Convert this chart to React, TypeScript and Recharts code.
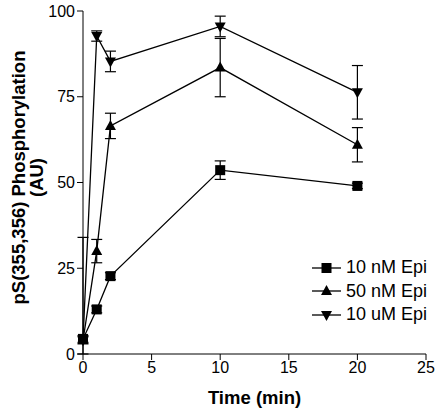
import React from "react";
import {
  ComposedChart,
  Line,
  XAxis,
  YAxis,
  ErrorBar,
  Label,
} from "recharts";

// time points (min)
const times = [0, 1, 2, 10, 20];

// mean responses
const epi10nM = [4.4, 13, 22.7, 53.6, 49];
const epi50nM = [4, 30, 66.5, 83.5, 61];
const epi10uM = [4, 92.7, 85.3, 95.5, 76.3];

// error bars as [below, above]
const epi10nMErr = [[1, 1], [1, 1], [1, 1], [2.7, 2.7], [0.8, 0.8]];
const epi50nMErr = [[4, 30], [3.4, 3.4], [3.7, 3.7], [8.5, 8.5], [5, 5]];
const epi10uMErr = [[1, 1], [1.5, 1.5], [3, 3], [3, 3], [7.8, 7.8]];

const xTicks = [0, 5, 10, 15, 20, 25];
const yTicks = [0, 25, 50, 75, 100];

const seriesNames = ["10 nM Epi", "50 nM Epi", "10 uM Epi"];
const xTitle = "Time (min)";
const yTitle = ["pS(355,356) Phosphorylation", "(AU)"];

const data = times.map((t, i) => ({
  t,
  a: epi10nM[i],
  b: epi50nM[i],
  c: epi10uM[i],
  aErr: epi10nMErr[i],
  bErr: epi50nMErr[i],
  cErr: epi10uMErr[i],
}));

const INK = "#000";
const FONT = "'Liberation Sans', Arial, sans-serif";

function Marker({ kind, cx, cy }: { kind: number; cx: number; cy: number }) {
  if (kind === 0) {
    return <rect x={cx - 5} y={cy - 5} width={10} height={10} fill={INK} />;
  }
  if (kind === 1) {
    return (
      <polygon
        points={`${cx},${cy - 6} ${cx - 5.5},${cy + 4} ${cx + 5.5},${cy + 4}`}
        fill={INK}
      />
    );
  }
  return (
    <polygon
      points={`${cx},${cy + 6} ${cx - 5.5},${cy - 4} ${cx + 5.5},${cy - 4}`}
      fill={INK}
    />
  );
}

const dotFor = (kind: number) => (props: any) =>
  <Marker key={`${kind}-${props.index}`} kind={kind} cx={props.cx} cy={props.cy} />;

function LegendBox() {
  return (
    <div
      style={{
        position: "absolute",
        left: 312,
        top: 256,
        fontFamily: FONT,
        fontSize: 18,
        color: "#000",
      }}
    >
      {seriesNames.map((name, i) => (
        <div key={name} style={{ display: "flex", alignItems: "center", height: 23.5 }}>
          <svg width={32} height={16} style={{ marginRight: 2 }}>
            <line x1={0} y1={8} x2={29} y2={8} stroke={INK} strokeWidth={1.3} />
            <Marker kind={i} cx={14.5} cy={8} />
          </svg>
          <span>{name}</span>
        </div>
      ))}
    </div>
  );
}

function YTitle(props: any) {
  const vb = props.viewBox || {};
  const cy = vb.y + vb.height / 2 - 5;
  return (
    <g fontFamily={FONT} fontWeight="bold" fontSize={18.5} fill={INK}>
      <text x={25} y={cy} textAnchor="middle" transform={`rotate(-90, 25, ${cy})`}>
        {yTitle[0]}
      </text>
      <text x={43} y={cy} textAnchor="middle" transform={`rotate(-90, 43, ${cy})`}>
        {yTitle[1]}
      </text>
    </g>
  );
}

function XTitle(props: any) {
  const vb = props.viewBox || {};
  const cx = vb.x + vb.width / 2;
  return (
    <text
      x={cx}
      y={404}
      textAnchor="middle"
      fontFamily={FONT}
      fontWeight="bold"
      fontSize={18.5}
      fill={INK}
    >
      {xTitle}
    </text>
  );
}

export default function App() {
  const tick = { fill: INK, fontSize: 16, fontFamily: FONT };
  return (
    <div style={{ position: "absolute", left: 0, top: 0, width: 440, height: 415 }}>
      <ComposedChart
        width={440}
        height={415}
        data={data}
        margin={{ top: 11, right: 14, left: 23, bottom: 31 }}
      >
        <XAxis
          type="number"
          dataKey="t"
          domain={[0, 25]}
          ticks={xTicks}
          height={30}
          stroke={INK}
          tickSize={6}
          tick={tick}
          interval={0}
        >
          <Label content={<XTitle />} />
        </XAxis>
        <YAxis
          type="number"
          domain={[0, 100]}
          ticks={yTicks}
          width={60}
          stroke={INK}
          tickSize={6}
          tick={tick}
          interval={0}
        >
          <Label content={<YTitle />} />
        </YAxis>
        <Line
          dataKey="a"
          stroke={INK}
          strokeWidth={1.3}
          dot={dotFor(0)}
          activeDot={false}
          isAnimationActive={false}
        >
          <ErrorBar dataKey="aErr" direction="y" width={5.5} stroke={INK} strokeWidth={1.2} />
        </Line>
        <Line
          dataKey="b"
          stroke={INK}
          strokeWidth={1.3}
          dot={dotFor(1)}
          activeDot={false}
          isAnimationActive={false}
        >
          <ErrorBar dataKey="bErr" direction="y" width={5.5} stroke={INK} strokeWidth={1.2} />
        </Line>
        <Line
          dataKey="c"
          stroke={INK}
          strokeWidth={1.3}
          dot={dotFor(2)}
          activeDot={false}
          isAnimationActive={false}
        >
          <ErrorBar dataKey="cErr" direction="y" width={5.5} stroke={INK} strokeWidth={1.2} />
        </Line>
      </ComposedChart>
      <LegendBox />
    </div>
  );
}
